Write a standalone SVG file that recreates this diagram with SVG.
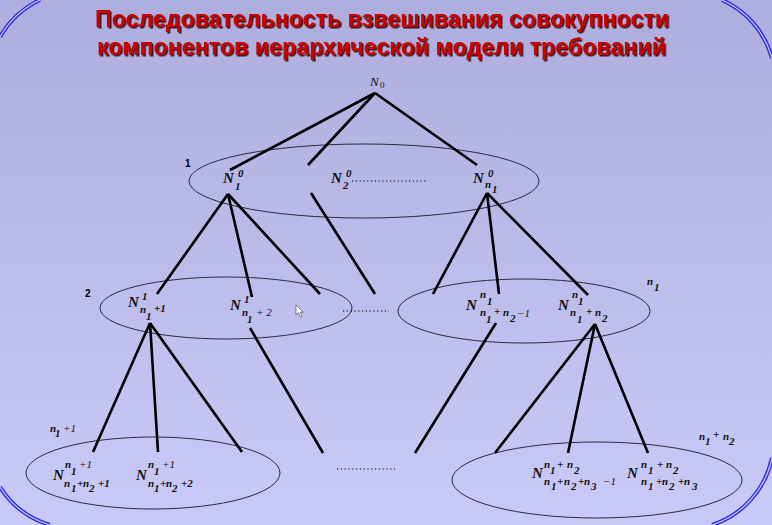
<svg xmlns="http://www.w3.org/2000/svg" width="772" height="525" viewBox="0 0 772 525">
<defs>
<linearGradient id="bg" x1="0" y1="0" x2="0" y2="1">
<stop offset="0" stop-color="#adaedd"/>
<stop offset="1" stop-color="#cacaf8"/>
</linearGradient>
<filter id="shadow" x="-5%" y="-30%" width="110%" height="160%">
<feDropShadow dx="1.5" dy="1.5" stdDeviation="0.4" flood-color="#300000" flood-opacity="0.9"/>
</filter>
<style>
.frame{fill:none;stroke:#2b2be0;stroke-width:4}
.frame2{fill:none;stroke:#c4c4f2;stroke-width:1.3}
.title{font-family:"Liberation Sans Narrow","Arial Narrow","Liberation Sans",Arial,sans-serif;font-weight:bold;font-size:24px;fill:#c80000}
.ell{fill:none;stroke:#2a2a40;stroke-width:1}
.edge{stroke:#000;stroke-width:2.6;stroke-linecap:butt}
.dots{stroke:#000;stroke-width:1.2;stroke-dasharray:1.2 2.6}
.m{font-family:"Liberation Serif","Times New Roman",serif;font-style:italic;font-weight:bold;fill:#111}
.N{font-size:15px}
.s{font-size:11px}
.r{font-weight:normal}
.lv{font-family:"Liberation Sans",Arial,sans-serif;font-weight:bold;font-size:10px;fill:#000}
</style>
</defs>
<rect width="772" height="525" fill="url(#bg)"/>
<g id="frame">
<path class="frame" d="M0,37 A90,90 0 0 1 40,0 M722,0 A90,90 0 0 1 772,58 M772,458 A90,90 0 0 1 712,525 M50,525 A90,90 0 0 1 0,487"/>
<path class="frame2" d="M0,37 A90,90 0 0 1 40,0 M722,0 A90,90 0 0 1 772,58 M772,458 A90,90 0 0 1 712,525 M50,525 A90,90 0 0 1 0,487"/>
</g>
<g id="title" filter="url(#shadow)">
<text class="title" x="95" y="27" textLength="574" lengthAdjust="spacingAndGlyphs">Последовательность взвешивания совокупности</text>
<text class="title" x="97" y="55" textLength="569" lengthAdjust="spacingAndGlyphs">компонентов иерархической модели требований</text>
</g>
<g id="levels">
<ellipse id="level-1" class="ell" cx="364" cy="181" rx="175" ry="37"/>
<ellipse id="level-2a" class="ell" cx="226" cy="308" rx="126" ry="31"/>
<ellipse id="level-2b" class="ell" cx="524" cy="311" rx="126" ry="32"/>
<ellipse id="level-3a" class="ell" cx="153" cy="473" rx="127" ry="36"/>
<ellipse id="level-3b" class="ell" cx="597" cy="480" rx="145" ry="38"/>
</g>
<g id="connectors">
<line class="edge" x1="375" y1="93" x2="230" y2="170"/>
<line class="edge" x1="375" y1="93" x2="308" y2="165"/>
<line class="edge" x1="375" y1="93" x2="477" y2="165"/>
<line class="edge" x1="228" y1="194" x2="157" y2="294"/>
<line class="edge" x1="228" y1="194" x2="252" y2="297"/>
<line class="edge" x1="228" y1="194" x2="320" y2="294"/>
<line class="edge" x1="311" y1="193" x2="375" y2="294"/>
<line class="edge" x1="487" y1="193" x2="433" y2="294"/>
<line class="edge" x1="487" y1="193" x2="499" y2="294"/>
<line class="edge" x1="487" y1="193" x2="588" y2="295"/>
<line class="edge" x1="150" y1="323" x2="93" y2="452"/>
<line class="edge" x1="150" y1="323" x2="158" y2="452"/>
<line class="edge" x1="150" y1="323" x2="242" y2="452"/>
<line class="edge" x1="250" y1="328" x2="323" y2="453"/>
<line class="edge" x1="496" y1="323" x2="415" y2="453"/>
<line class="edge" x1="595" y1="324" x2="495" y2="453"/>
<line class="edge" x1="595" y1="324" x2="568" y2="453"/>
<line class="edge" x1="595" y1="324" x2="648" y2="453"/>
<line class="dots" x1="352" y1="181" x2="428" y2="181"/>
<line class="dots" x1="343" y1="311" x2="389" y2="311"/>
<line class="dots" x1="337" y1="469" x2="395" y2="469"/>
</g>
<g id="level-labels">
<text class="lv" x="185" y="167">1</text>
<text class="lv" x="85" y="297">2</text>
<text class="m s" x="647" y="285">n<tspan x="654" y="291">1</tspan></text>
<text class="m s" x="50" y="432">n<tspan x="55" y="437">1</tspan><tspan class="r" x="63" y="432">+1</tspan></text>
<text class="m s" x="699" y="440">n<tspan x="705" y="445">1</tspan><tspan x="713" y="438">+</tspan><tspan x="723" y="440">n</tspan><tspan x="729" y="445">2</tspan></text>
</g>
<g id="node-root">
<text class="m r" x="370" y="86" font-size="13" fill="#333">N<tspan x="380" y="88" font-size="9" font-style="normal">0</tspan></text>
</g>
<g id="node-N1-0">
<text class="m N" x="223" y="183">N<tspan class="s" x="238" y="177">0</tspan><tspan class="s" x="235" y="190">1</tspan></text>
</g>
<g id="node-N2-0">
<text class="m N" x="331" y="183">N<tspan class="s" x="346" y="177">0</tspan><tspan class="s" x="343" y="189">2</tspan></text>
</g>
<g id="node-Nn1-0">
<text class="m N" x="473" y="183">N<tspan class="s" x="488" y="177">0</tspan><tspan class="s" x="485" y="188">n</tspan><tspan class="s" x="492" y="193">1</tspan></text>
</g>
<g id="node-N1-n1p1">
<text class="m N" x="128" y="307">N<tspan class="s" x="142" y="300">1</tspan><tspan class="s" x="140" y="313">n</tspan><tspan class="s" x="146" y="320">1</tspan><tspan class="s" x="154" y="312">+1</tspan></text>
</g>
<g id="node-N1-n1p2">
<text class="m N" x="230" y="310">N<tspan class="s" x="244" y="303">1</tspan><tspan class="s" x="242" y="316">n</tspan><tspan class="s" x="247" y="323">1</tspan><tspan class="s r" x="256" y="316">+ 2</tspan></text>
</g>
<g id="node-Nn1-n1n2m1">
<text class="m N" x="466" y="310">N<tspan class="s" x="480" y="298">n</tspan><tspan class="s" x="487" y="305">1</tspan><tspan class="s" x="480" y="316">n</tspan><tspan class="s" x="486" y="323">1</tspan><tspan class="s" x="494" y="315">+</tspan><tspan class="s" x="503" y="316">n</tspan><tspan class="s" x="510" y="322">2</tspan><tspan class="s r" x="517" y="317">−1</tspan></text>
</g>
<g id="node-Nn1-n1n2">
<text class="m N" x="558" y="310">N<tspan class="s" x="572" y="298">n</tspan><tspan class="s" x="578" y="305">1</tspan><tspan class="s" x="570" y="316">n</tspan><tspan class="s" x="577" y="323">1</tspan><tspan class="s" x="586" y="315">+</tspan><tspan class="s" x="595" y="316">n</tspan><tspan class="s" x="602" y="322">2</tspan></text>
</g>
<g id="node-bl1">
<text class="m N" x="53" y="480">N<tspan class="s" x="65" y="468">n</tspan><tspan class="s" x="71" y="475">1</tspan><tspan class="s r" x="79" y="468">+1</tspan><tspan class="s" x="64" y="487">n</tspan><tspan class="s" x="71" y="492">1</tspan><tspan class="s" x="77" y="487">+</tspan><tspan class="s" x="83" y="487">n</tspan><tspan class="s" x="89" y="492">2</tspan><tspan class="s" x="98" y="487">+1</tspan></text>
</g>
<g id="node-bl2">
<text class="m N" x="136" y="480">N<tspan class="s" x="148" y="468">n</tspan><tspan class="s" x="154" y="475">1</tspan><tspan class="s r" x="162" y="468">+1</tspan><tspan class="s" x="148" y="487">n</tspan><tspan class="s" x="154" y="492">1</tspan><tspan class="s" x="160" y="487">+</tspan><tspan class="s" x="166" y="487">n</tspan><tspan class="s" x="172" y="492">2</tspan><tspan class="s" x="181" y="487">+2</tspan></text>
</g>
<g id="node-br1">
<text class="m N" x="532" y="478">N<tspan class="s" x="544" y="468">n</tspan><tspan class="s" x="550" y="474">1</tspan><tspan class="s" x="557" y="468">+</tspan><tspan class="s" x="567" y="468">n</tspan><tspan class="s" x="574" y="474">2</tspan><tspan class="s" x="544" y="485">n</tspan><tspan class="s" x="551" y="490">1</tspan><tspan class="s" x="557" y="485">+</tspan><tspan class="s" x="564" y="485">n</tspan><tspan class="s" x="571" y="490">2</tspan><tspan class="s" x="578" y="485">+</tspan><tspan class="s" x="584" y="485">n</tspan><tspan class="s" x="591" y="490">3</tspan><tspan class="s r" x="603" y="485">−1</tspan></text>
</g>
<g id="node-br2">
<text class="m N" x="627" y="478">N<tspan class="s" x="641" y="468">n</tspan><tspan class="s" x="648" y="474">1</tspan><tspan class="s" x="657" y="468">+</tspan><tspan class="s" x="666" y="468">n</tspan><tspan class="s" x="673" y="474">2</tspan><tspan class="s" x="641" y="485">n</tspan><tspan class="s" x="648" y="490">1</tspan><tspan class="s" x="656" y="485">+</tspan><tspan class="s" x="662" y="485">n</tspan><tspan class="s" x="669" y="490">2</tspan><tspan class="s" x="678" y="485">+</tspan><tspan class="s" x="684" y="485">n</tspan><tspan class="s" x="692" y="490">3</tspan></text>
</g>
<g id="cursor">
<polygon points="296,305 296,315 298.4,312.7 300.3,317 302,316.2 300.2,312.1 303.4,312.1" fill="#fff" stroke="#555" stroke-width="0.7"/>
</g>
</svg>
